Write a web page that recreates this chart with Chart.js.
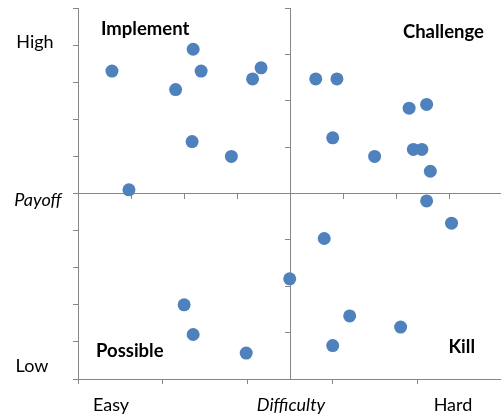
<!DOCTYPE html>
<html>
<head>
<meta charset="utf-8">
<script src="https://cdn.jsdelivr.net/npm/chart.js@4/dist/chart.umd.min.js"></script>
<style>
  html, body { margin: 0; padding: 0; background: #fff; width: 501px; height: 416px; overflow: hidden; }
  #wrap { width: 509px; height: 416px; position: relative; }
</style>
</head>
<body>
<div id="wrap"><canvas id="chart"></canvas></div>
<script>
// difficulty (x) and payoff (y), central axes run 0..8 and cross at 4
const difficulty = [0.64, 2.17, 2.32, 1.84, 2.15, 2.89, 0.96,
  3.29, 3.45, 4.48, 4.88, 6.24, 6.57, 4.80, 5.59, 6.32, 6.48, 6.64, 6.57,
  7.04, 4.64, 3.99, 5.12, 6.08, 4.80, 2.00, 2.17, 3.17];
const payoff = [6.64, 7.11, 6.64, 6.24, 5.12, 4.80, 4.08,
  6.47, 6.71, 6.47, 6.47, 5.84, 5.92, 5.20, 4.80, 4.95, 4.95, 4.48, 3.84,
  3.36, 3.03, 2.16, 1.36, 1.12, 0.72, 1.60, 0.96, 0.56];

const quadrantLabels = ["Implement", "Challenge", "Possible", "Kill"];
const axisWords = ["High", "Payoff", "Low", "Easy", "Difficulty", "Hard"];

const points = difficulty.map((d, i) => ({ x: d, y: payoff[i] }));

const axisGray = "#868686";
const fontFam = "Lato, 'Liberation Sans', sans-serif";

// textes fixes autour du graphique
const labelsPlugin = {
  id: "labels",
  afterDraw(chart) {
    const ctx = chart.ctx;
    ctx.save();
    ctx.fillStyle = "#000";
    ctx.textBaseline = "middle";

    ctx.font = "bold 18.5px " + fontFam;
    ctx.textAlign = "left";
    ctx.fillText(quadrantLabels[0], 101, 29);
    ctx.fillText(quadrantLabels[2], 96, 351);
    ctx.textAlign = "right";
    ctx.fillText(quadrantLabels[1], 484, 32);
    ctx.fillText(quadrantLabels[3], 475, 347);

    ctx.font = "18px " + fontFam;
    ctx.textAlign = "center";
    ctx.fillText(axisWords[0], 35, 42);
    ctx.fillText(axisWords[2], 32, 366);
    ctx.fillText(axisWords[3], 111, 405);
    ctx.fillText(axisWords[5], 453, 405);
    ctx.font = "italic 18px " + fontFam;
    ctx.fillText(axisWords[1], 38, 200);
    ctx.fillText(axisWords[4], 291, 405);
    ctx.restore();
  }
};

const hiddenAxis = (extra) => Object.assign({
  type: "linear",
  ticks: { display: false, stepSize: 1 },
  grid: { drawOnChartArea: false, drawTicks: true, tickLength: 5, color: axisGray },
  border: { display: true, color: axisGray, width: 1 }
}, extra);

new Chart(document.getElementById("chart"), {
  type: "scatter",
  data: {
    datasets: [{
      data: points,
      backgroundColor: "#4F81BD",
      borderColor: "#4F81BD",
      borderWidth: 0,
      pointRadius: 6.5,
      pointHoverRadius: 6.5
    }]
  },
  options: {
    responsive: true,
    maintainAspectRatio: false,
    animation: false,
    layout: { padding: { left: 73, top: 8, right: 0, bottom: 32 } },
    plugins: { legend: { display: false }, tooltip: { enabled: false } },
    scales: {
      x: hiddenAxis({ min: 0, max: 8, position: { y: 4 } }),
      y: hiddenAxis({ min: 0, max: 8, position: { x: 4 } }),
      xB: hiddenAxis({ axis: "x", min: 0, max: 5, position: "bottom" }),
      yL: hiddenAxis({ axis: "y", min: 0, max: 10, position: "left" })
    }
  },
  plugins: [labelsPlugin]
});
</script>
</body>
</html>
